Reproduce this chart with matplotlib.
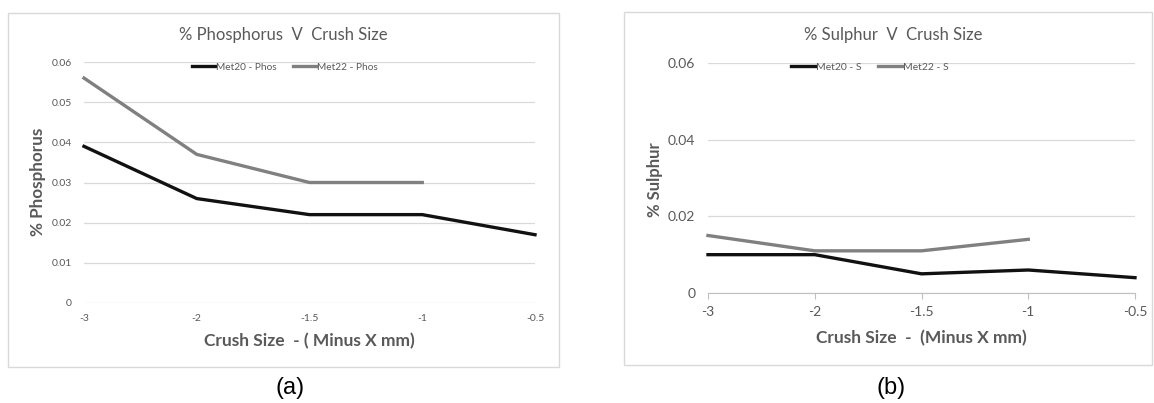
import matplotlib
matplotlib.use("Agg")
import matplotlib.pyplot as plt
from matplotlib.patches import Rectangle

categories = ["-3", "-2", "-1.5", "-1", "-0.5"]
phos_met20 = [0.039, 0.026, 0.022, 0.022, 0.017]
phos_met22 = [0.056, 0.037, 0.030, 0.030]
sulph_met20 = [0.010, 0.010, 0.005, 0.006, 0.004]
sulph_met22 = [0.015, 0.011, 0.011, 0.014]

W, H = 1154, 403
fig = plt.figure(figsize=(W / 100, H / 100), dpi=100)
FONT = "Lato"
TXT = "#595959"
GRID = "#d9d9d9"
BLACK = "#111111"
GRAY = "#808080"

def fx(x): return x / W
def fy(y): return 1 - y / H

def box(x0, y0, x1, y1):
    fig.patches.append(Rectangle((fx(x0), fy(y1)), fx(x1 - x0), (y1 - y0) / H,
                                 transform=fig.transFigure, fill=False,
                                 edgecolor="#d9d9d9", lw=1.0))

def make_axes(x0, y0, x1, y1):
    return fig.add_axes([fx(x0), fy(y1), fx(x1 - x0), (y1 - y0) / H])

def style(ax, yticks, ylabels, tick_fs, ticks_x):
    xs = list(range(len(categories)))
    ax.set_xlim(0, len(categories) - 1)
    ax.set_ylim(0, 0.06)
    ax.set_yticks(yticks)
    ax.set_yticklabels(ylabels, fontsize=tick_fs, color=TXT, family=FONT)
    ax.set_xticks(xs)
    ax.set_xticklabels(categories, fontsize=tick_fs, color=TXT, family=FONT)
    ax.grid(axis="y", color=GRID, lw=0.9)
    ax.set_axisbelow(True)
    for s in ax.spines.values():
        s.set_visible(False)
    ax.tick_params(axis="y", length=0, pad=9)
    if ticks_x:
        ax.spines["bottom"].set_visible(True)
        ax.spines["bottom"].set_color("#bfbfbf")
        ax.tick_params(axis="x", length=4, color="#bfbfbf", pad=5)
    else:
        ax.tick_params(axis="x", length=0, pad=8)
    ax.patch.set_alpha(0)

xs = list(range(len(categories)))

# ---------- Panel (a) ----------
box(8, 13, 559, 367)
ax1 = make_axes(84, 62, 535, 303)
ax1.plot(xs, phos_met20, color=BLACK, lw=2.4, solid_joinstyle="round", label="Met20 - Phos", clip_on=False)
ax1.plot(xs[:len(phos_met22)], phos_met22, color=GRAY, lw=2.4, solid_joinstyle="round", label="Met22 - Phos", clip_on=False)
style(ax1, [0, 0.01, 0.02, 0.03, 0.04, 0.05, 0.06],
      ["0", "0.01", "0.02", "0.03", "0.04", "0.05", "0.06"], 7.5, False)
fig.text(fx(283), fy(35), "% Phosphorus  V  Crush Size", ha="center", va="center",
         fontsize=12, color=TXT, family=FONT)
fig.text(fx(38), fy(182), "% Phosphorus", ha="center", va="center", rotation=90,
         fontsize=12.3, color=TXT, family=FONT, fontweight="bold")
fig.text(fx(309), fy(341), "Crush Size  - ( Minus X mm)", ha="center", va="center",
         fontsize=12.5, color=TXT, family=FONT, fontweight="bold")
ax1.legend(loc="center", bbox_to_anchor=(fx(285), fy(67)), bbox_transform=fig.transFigure,
           ncol=2, frameon=False, handlelength=2.3, handletextpad=0.1,
           columnspacing=1.6, labelcolor=TXT, prop={"family": FONT, "size": 7.3})
fig.text(fx(290), fy(388), "(a)", ha="center", va="center", fontsize=17,
         color="black", family="Liberation Sans")

# ---------- Panel (b) ----------
box(624, 12, 1152, 365)
ax2 = make_axes(708, 63, 1135, 293)
ax2.plot(xs, sulph_met20, color=BLACK, lw=2.4, solid_joinstyle="round", label="Met20 - S", clip_on=False)
ax2.plot(xs[:len(sulph_met22)], sulph_met22, color=GRAY, lw=2.4, solid_joinstyle="round", label="Met22 - S", clip_on=False)
style(ax2, [0, 0.02, 0.04, 0.06], ["0", "0.02", "0.04", "0.06"], 10, True)
fig.text(fx(893), fy(35), "% Sulphur  V  Crush Size", ha="center", va="center",
         fontsize=12, color=TXT, family=FONT)
fig.text(fx(655), fy(180), "% Sulphur", ha="center", va="center", rotation=90,
         fontsize=12, color=TXT, family=FONT, fontweight="bold")
fig.text(fx(921), fy(338), "Crush Size  -  (Minus X mm)", ha="center", va="center",
         fontsize=12.5, color=TXT, family=FONT, fontweight="bold")
ax2.legend(loc="center", bbox_to_anchor=(fx(870), fy(67)), bbox_transform=fig.transFigure,
           ncol=2, frameon=False, handlelength=2.3, handletextpad=0.1,
           columnspacing=1.6, labelcolor=TXT, prop={"family": FONT, "size": 7.5})
fig.text(fx(891), fy(388), "(b)", ha="center", va="center", fontsize=17,
         color="black", family="Liberation Sans")

fig.savefig("out.png", dpi=100, facecolor="white")
